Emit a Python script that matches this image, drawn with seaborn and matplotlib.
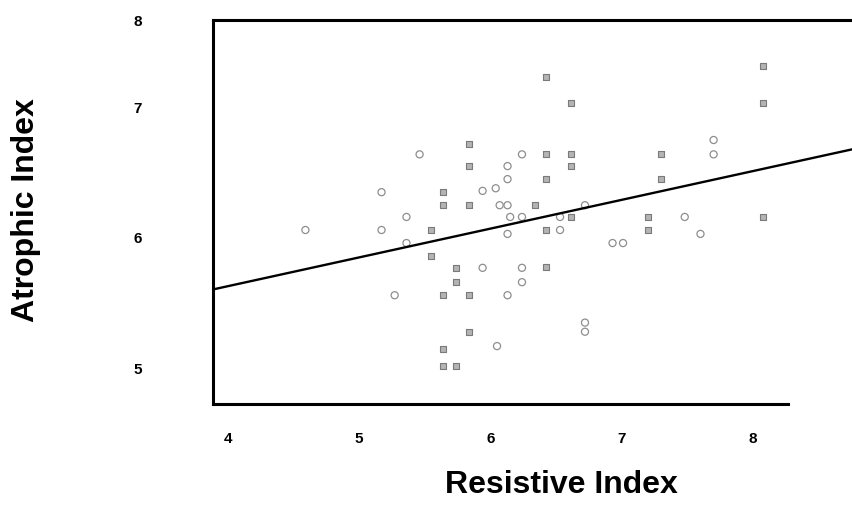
import matplotlib
matplotlib.use("Agg")
import matplotlib.pyplot as plt
import seaborn as sns
import pandas as pd
import numpy as np

# ---- data ----
square_x = [5.55, 5.55, 5.64, 5.64, 5.64, 5.64, 5.64, 5.74, 5.74, 5.74,
            5.84, 5.84, 5.84, 5.84, 5.84, 6.34, 6.42, 6.42, 6.42, 6.42,
            6.42, 6.61, 6.61, 6.61, 6.61, 7.20, 7.20, 7.30, 7.30, 8.08,
            8.08, 8.08]
square_y = [6.06, 5.86, 6.35, 6.25, 5.56, 5.15, 5.02, 5.77, 5.66, 5.02,
            6.72, 6.55, 6.25, 5.56, 5.28, 6.25, 7.23, 6.64, 6.45, 6.06,
            5.78, 7.03, 6.64, 6.55, 6.16, 6.16, 6.06, 6.64, 6.45, 7.32,
            7.03, 6.16]
circle_x = [4.59, 5.17, 5.17, 5.27, 5.36, 5.36, 5.46, 5.94, 6.04, 6.07,
            6.13, 6.13, 6.13, 6.24, 6.15, 6.24, 6.13, 5.94, 6.24, 6.24,
            6.13, 6.05, 6.53, 6.53, 6.72, 6.72, 6.72, 6.93, 7.01, 7.48,
            7.60, 7.70, 7.70]
circle_y = [6.06, 6.35, 6.06, 5.56, 6.16, 5.96, 6.64, 6.36, 6.38, 6.25,
            6.25, 6.55, 6.45, 6.64, 6.16, 6.16, 6.03, 5.77, 5.77, 5.66,
            5.56, 5.17, 6.16, 6.06, 6.25, 5.35, 5.28, 5.96, 5.96, 6.16,
            6.03, 6.75, 6.64]
fit_intercept = 4.747
fit_slope = 0.2206
x_ticks = [4, 5, 6, 7, 8]
x_tick_labels = ["4", "5", "6", "7", "8"]
y_ticks = [5, 6, 7, 7.67]
y_tick_labels = ["5", "6", "7", "8"]
x_limits = [3.886, 8.762]
y_limits = [4.726, 7.646]

sns.set_style("white")
plt.rcParams["font.family"] = ["Liberation Sans", "DejaVu Sans"]
plt.rcParams["text.color"] = "black"
plt.rcParams["xtick.color"] = "black"
plt.rcParams["ytick.color"] = "black"
plt.rcParams["axes.labelcolor"] = "black"

fig = plt.figure(figsize=(8.53, 5.14), dpi=100)
ax = fig.add_axes([213 / 853, 1 - 404 / 514, 640 / 853, 384 / 514])

sq = pd.DataFrame({"x": square_x, "y": square_y})
ci = pd.DataFrame({"x": circle_x, "y": circle_y})

sns.scatterplot(data=ci, x="x", y="y", ax=ax, marker="o", s=26,
                facecolors="none", edgecolor="#8e8e8e", linewidth=0.9)
sns.scatterplot(data=sq, x="x", y="y", ax=ax, marker="s", s=14,
                color="#b4b4b4", edgecolor="#7a7a7a", linewidth=0.8)

line_df = pd.DataFrame({"x": x_limits})
line_df["y"] = fit_intercept + fit_slope * line_df["x"]
sns.lineplot(data=line_df, x="x", y="y", ax=ax, color="black", linewidth=1.7)

ax.set_xlim(*x_limits)
ax.set_ylim(*y_limits)
ax.set_xticks(x_ticks)
ax.set_xticklabels(x_tick_labels, fontsize=11, fontweight="bold")
ax.set_yticks(y_ticks)
ax.set_yticklabels(y_tick_labels, fontsize=11, fontweight="bold")
ax.tick_params(axis="both", length=0)
ax.tick_params(axis="y", pad=51)
ax.tick_params(axis="x", pad=20)

ax.set_xlabel("Resistive Index", fontsize=23, fontweight="bold", va="center")
ax.set_ylabel("Atrophic Index", fontsize=23, fontweight="bold", va="center")
ax.xaxis.set_label_coords(0.544, -0.211)
ax.yaxis.set_label_coords(-0.292, 0.505)

for side in ["left", "top", "bottom"]:
    ax.spines[side].set_visible(True)
    ax.spines[side].set_color("black")
    ax.spines[side].set_linewidth(2.2)
ax.spines["right"].set_visible(False)
ax.spines["bottom"].set_bounds(x_limits[0], 8.267)

fig.savefig("out.png", dpi=100)
